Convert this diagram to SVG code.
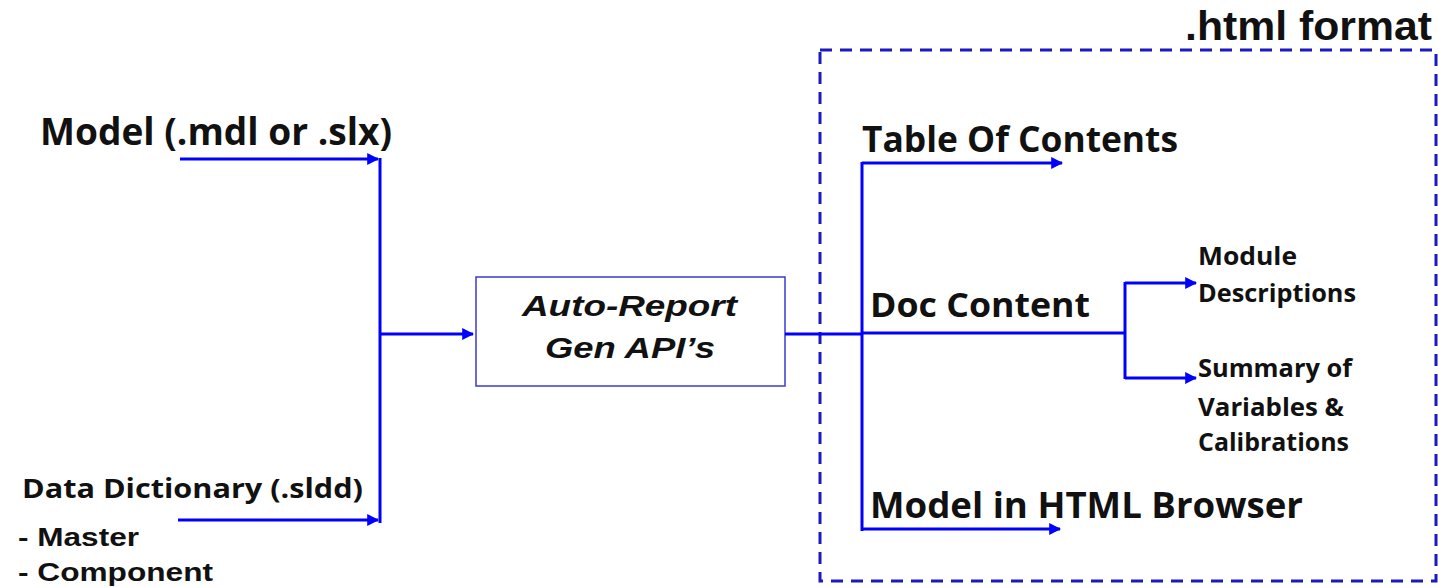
<svg xmlns="http://www.w3.org/2000/svg" width="1455" height="587" viewBox="0 0 1455 587">
  <defs>
    <marker id="arrow" viewBox="0 0 10 10" refX="9" refY="5" markerWidth="4" markerHeight="4" markerUnits="strokeWidth" orient="auto">
      <path d="M0,0 L10,5 L0,10 z" fill="#0000ff"/>
    </marker>
    <style>
      .wire { fill: none; stroke: #0000ff; stroke-width: 3; }
      .cal { font-family: "Open Sans", "Noto Sans", sans-serif; font-weight: 700; fill: #111; }
      .ari { font-family: "Liberation Sans", Arial, sans-serif; font-weight: 700; fill: #111; }
    </style>
  </defs>
  <rect width="1455" height="587" fill="#ffffff"/>

  <!-- output container -->
  <g id="html-format">
    <rect x="820" y="50" width="616" height="531" fill="none" stroke="#1a1ac0" stroke-width="3" stroke-dasharray="12,8"/>
    <text class="ari" x="1185" y="40" font-size="40" textLength="247" lengthAdjust="spacingAndGlyphs">.html format</text>
  </g>

  <!-- inputs -->
  <g id="model-input">
    <text class="cal" x="40" y="145" font-size="37" textLength="352" lengthAdjust="spacingAndGlyphs">Model (.mdl or .slx)</text>
  </g>
  <g id="data-dictionary">
    <text class="cal" x="22" y="498" font-size="26" textLength="341" lengthAdjust="spacingAndGlyphs">Data Dictionary (.sldd)</text>
    <text class="ari" x="18" y="546" font-size="25" textLength="121" lengthAdjust="spacingAndGlyphs">- Master</text>
    <text class="ari" x="18" y="581" font-size="25" textLength="195" lengthAdjust="spacingAndGlyphs">- Component</text>
  </g>

  <!-- generator -->
  <g id="auto-report">
    <rect x="476" y="277" width="309" height="109" fill="#ffffff" stroke="#3a3ad0" stroke-width="1.5"/>
    <text class="ari" x="522" y="316" font-size="29" font-style="italic" textLength="215" lengthAdjust="spacingAndGlyphs">Auto-Report</text>
    <text class="ari" x="545" y="358" font-size="29" font-style="italic" textLength="170" lengthAdjust="spacingAndGlyphs">Gen API’s</text>
  </g>

  <!-- outputs -->
  <g id="table-of-contents">
    <text class="cal" x="862" y="152" font-size="35" textLength="316" lengthAdjust="spacingAndGlyphs">Table Of Contents</text>
  </g>
  <g id="doc-content">
    <text class="cal" x="870" y="317" font-size="34" textLength="220" lengthAdjust="spacingAndGlyphs">Doc Content</text>
  </g>
  <g id="module-descriptions">
    <text class="cal" x="1198" y="265" font-size="25" textLength="99" lengthAdjust="spacingAndGlyphs">Module</text>
    <text class="cal" x="1198" y="302" font-size="25" textLength="158" lengthAdjust="spacingAndGlyphs">Descriptions</text>
  </g>
  <g id="summary-of-variables">
    <text class="cal" x="1198" y="377" font-size="25" textLength="154" lengthAdjust="spacingAndGlyphs">Summary of</text>
    <text class="cal" x="1198" y="416" font-size="25" textLength="146" lengthAdjust="spacingAndGlyphs">Variables &amp;</text>
    <text class="cal" x="1198" y="451" font-size="25" textLength="151" lengthAdjust="spacingAndGlyphs">Calibrations</text>
  </g>
  <g id="html-browser">
    <text class="cal" x="870" y="518" font-size="35" textLength="433" lengthAdjust="spacingAndGlyphs">Model in HTML Browser</text>
  </g>

  <!-- connectors -->
  <g id="connectors">
    <line class="wire" x1="180" y1="159" x2="378" y2="159" marker-end="url(#arrow)"/>
    <line class="wire" x1="178" y1="520" x2="378" y2="520" marker-end="url(#arrow)"/>
    <line class="wire" x1="380" y1="158" x2="380" y2="523"/>
    <line class="wire" x1="380" y1="334" x2="473" y2="334" marker-end="url(#arrow)"/>
    <line class="wire" x1="785" y1="334" x2="862" y2="334"/>
    <line class="wire" x1="862" y1="162" x2="862" y2="531"/>
    <line class="wire" x1="862" y1="163" x2="1062" y2="163" marker-end="url(#arrow)"/>
    <line class="wire" x1="862" y1="333" x2="1125" y2="333"/>
    <line class="wire" x1="862" y1="529" x2="1060" y2="529" marker-end="url(#arrow)"/>
    <line class="wire" x1="1125" y1="282" x2="1125" y2="379"/>
    <line class="wire" x1="1125" y1="283" x2="1196" y2="283" marker-end="url(#arrow)"/>
    <line class="wire" x1="1125" y1="378" x2="1196" y2="378" marker-end="url(#arrow)"/>
  </g>
</svg>
